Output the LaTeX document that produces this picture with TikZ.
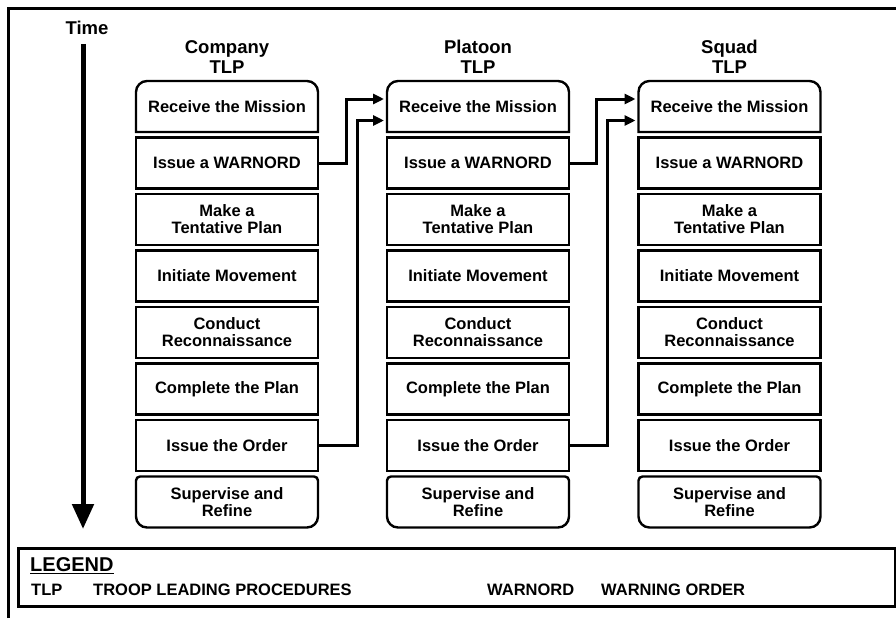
\documentclass[tikz,border=0pt]{standalone}
\usepackage{fontspec}
\setmainfont{Liberation Sans}
\usetikzlibrary{arrows.meta,calc}
\tikzset{
  stepbox/.style={draw, line width=2.4pt, minimum width=182pt, minimum height=51pt, inner sep=0pt, align=center, font=\bfseries\fontsize{16.5}{17}\selectfont},
  openbox/.style={stepbox, draw=none, outer sep=0pt},
  hdr/.style={align=center, font=\bfseries\fontsize{18.5}{20}\selectfont},
  conn/.style={line width=3pt, -{Triangle[length=11pt,width=10pt]}},
  legtxt/.style={anchor=west, inner sep=0pt, font=\bfseries\fontsize{16.5}{18}\selectfont},
  frame/.style={line width=3pt}
}
\begin{document}
\begin{tikzpicture}[x=1pt,y=-1pt]
\useasboundingbox (0,0) rectangle (896,618);
% outer frame
\draw[frame] (8,618) -- (8,8.5) -- (896,8.5);
% time
\node[hdr] (time) at (87,28) {Time};
\coordinate (tstart) at (83,44);
\coordinate (tend) at (83,529);
\draw[line width=5pt, -{Triangle[length=25pt,width=21pt]}] (tstart) -- (tend);
% columns
\foreach \col/\cx/\name in {c/227/Company, p/478/Platoon, s/729.5/Squad}{
  \node[hdr] (\col h) at (\cx,57) {\name\\TLP};
  \node[openbox] (\col1) at (\cx,106.5) {Receive the Mission};
  \node[stepbox] (\col2) at (\cx,163) {Issue a WARNORD};
  \node[stepbox] (\col3) at (\cx,219.5) {Make a\\Tentative Plan};
  \node[stepbox] (\col4) at (\cx,276) {Initiate Movement};
  \node[stepbox] (\col5) at (\cx,332.5) {Conduct\\Reconnaissance};
  \node[stepbox] (\col6) at (\cx,389) {Complete the Plan};
  \node[stepbox] (\col7) at (\cx,445.5) {Issue the Order};
  \node[openbox] (\col8) at (\cx,502) {Supervise and\\Refine};
  \draw[line width=2.4pt] (\col1.south west) -- ([yshift=-11pt]\col1.north west) arc[start angle=180,end angle=90,radius=11pt] -- ([xshift=-11pt]\col1.north east) arc[start angle=90,end angle=0,radius=11pt] -- (\col1.south east) -- cycle;
  \draw[line width=2.4pt] ([yshift=-4pt]\col8.north west) arc[start angle=180,end angle=90,radius=4pt] -- ([xshift=-4pt]\col8.north east) arc[start angle=90,end angle=0,radius=4pt] -- ([yshift=11pt]\col8.south east) arc[start angle=0,end angle=-90,radius=11pt] -- ([xshift=11pt]\col8.south west) arc[start angle=-90,end angle=-180,radius=11pt] -- cycle;
}
% connectors
\draw[conn] (c2.east) -- ++(27,0) |- ([yshift=7.5pt,xshift=-3pt]p1.west);
\draw[conn] (c7.east) -- ++(38,0) |- ([yshift=-14pt,xshift=-3pt]p1.west);
\draw[conn] (p2.east) -- ++(26,0) |- ([yshift=7.5pt,xshift=-3pt]s1.west);
\draw[conn] (p7.east) -- ++(37,0) |- ([yshift=-14pt,xshift=-3pt]s1.west);
% legend
\node[draw, line width=3pt, minimum width=877pt, minimum height=58pt, inner sep=0pt] (legend) at (456.5,577) {};
\node[anchor=west, inner sep=0pt, font=\bfseries\fontsize{20}{22}\selectfont] (legtitle) at (30,566) {\underline{LEGEND}};
\node[legtxt] (k1) at (31,590) {TLP};
\node[legtxt] (v1) at (93,590) {TROOP LEADING PROCEDURES};
\node[legtxt] (k2) at (487,590) {WARNORD};
\node[legtxt] (v2) at (601,590) {WARNING ORDER};
\end{tikzpicture}
\end{document}
